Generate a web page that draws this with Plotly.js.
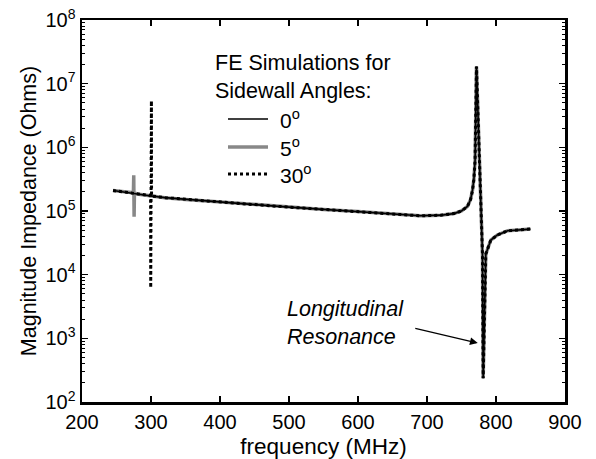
<!DOCTYPE html>
<html>
<head>
<meta charset="utf-8">
<script src="https://cdn.plot.ly/plotly-3.0.1.min.js"></script>
<style>html,body{margin:0;padding:0;background:#fff;}#chart{width:596px;height:459px;}</style>
</head>
<body>
<div id="chart"></div>
<script>
// Frequency (MHz) and magnitude impedance (Ohms)
const freq0 = [245, 260, 280, 300, 320, 350, 400, 450, 500, 550, 600, 650, 690, 720, 739, 750, 758.6, 763, 765.9, 768, 769.7, 771.7, 780.4, 781.4, 785.2, 792.5, 802, 817, 835, 850];
const z0    = [2.1e5, 1.98e5, 1.85e5, 1.72e5, 1.62e5, 1.52e5, 1.38e5, 1.26e5, 1.15e5, 1.06e5, 9.8e4, 9.0e4, 8.4e4, 8.6e4, 9.1e4, 1.0e5, 1.18e5, 1.5e5, 2.1e5, 3.2e5, 6.3e5, 1.86e7, 2.1e4, 2.36e2, 2.1e4, 3.5e4, 4.2e4, 4.9e4, 5.1e4, 5.2e4];

const freq5 = [245, 260, 274.5, 275, 275.5, 276, 280, 300, 320, 350, 400, 450, 500, 550, 600, 650, 690, 720, 739, 750, 758.6, 763, 765.9, 768, 769.7, 771.7, 780.4, 781.4, 785.2, 792.5, 802, 817, 835, 850];
const z5    = [2.1e5, 1.98e5, 1.93e5, 3.65e5, 8.1e4, 1.92e5, 1.85e5, 1.72e5, 1.62e5, 1.52e5, 1.38e5, 1.26e5, 1.15e5, 1.06e5, 9.8e4, 9.0e4, 8.4e4, 8.6e4, 9.1e4, 1.0e5, 1.18e5, 1.5e5, 2.1e5, 3.2e5, 6.3e5, 1.86e7, 2.1e4, 2.36e2, 2.1e4, 3.5e4, 4.2e4, 4.9e4, 5.1e4, 5.2e4];

const freq30 = [245, 260, 280, 290, 299.4, 299.6, 299.8, 300.4, 300.6, 300.8, 320, 350, 400, 450, 500, 550, 600, 650, 690, 720, 739, 750, 758.6, 763, 765.9, 768, 769.7, 771.7, 780.4, 781.4, 785.2, 792.5, 802, 817, 835, 850];
const z30    = [2.1e5, 1.98e5, 1.85e5, 1.78e5, 1.74e5, 6.2e3, 1.6e5, 1.7e5, 5.4e6, 1.72e5, 1.62e5, 1.52e5, 1.38e5, 1.26e5, 1.15e5, 1.06e5, 9.8e4, 9.0e4, 8.4e4, 8.6e4, 9.1e4, 1.0e5, 1.18e5, 1.5e5, 2.1e5, 3.2e5, 6.3e5, 1.86e7, 2.1e4, 2.36e2, 2.1e4, 3.5e4, 4.2e4, 4.9e4, 5.1e4, 5.2e4];

const seriesNames = ['0<sup>o</sup>', '5<sup>o</sup>', '30<sup>o</sup>'];
const legendHeader = ['FE Simulations for', 'Sidewall Angles:'];
const xTicks = [200, 300, 400, 500, 600, 700, 800, 900];
const yTicks = [1e2, 1e3, 1e4, 1e5, 1e6, 1e7, 1e8];
const yTickText = ['10<sup>2</sup>', '10<sup>3</sup>', '10<sup>4</sup>', '10<sup>5</sup>', '10<sup>6</sup>', '10<sup>7</sup>', '10<sup>8</sup>'];
const noteLines = ['Longitudinal', 'Resonance'];

const FONT = 'Liberation Sans, Arial, Helvetica, sans-serif';

const styles = [
  {color: '#000000', width: 1.6, dash: 'solid'},
  {color: '#888888', width: 3.5, dash: 'solid'},
  {color: '#000000', width: 3, dash: 'dot'}
];

const traces = [
  {x: freq5, y: z5, name: seriesNames[1], mode: 'lines', line: styles[1]},
  {x: freq30, y: z30, name: seriesNames[2], mode: 'lines', line: styles[2]},
  {x: freq0, y: z0, name: seriesNames[0], mode: 'lines', line: styles[0]}
];

// manual legend placed in paper coordinates
const legX0 = 0.3023, legX1 = 0.3851, legTextX = 0.405;
const legY = [0.7408, 0.6675, 0.5969];
const shapes = seriesNames.map((n, i) => ({
  type: 'line', xref: 'paper', yref: 'paper', x0: legX0, x1: legX1, y0: legY[i], y1: legY[i],
  line: {color: styles[i].color, width: styles[i].width, dash: styles[i].dash}
}));
const annotations = seriesNames.map((n, i) => ({
  xref: 'paper', yref: 'paper', x: legTextX, y: legY[i], xanchor: 'left', yanchor: 'middle',
  text: n, showarrow: false, font: {family: FONT, size: 21, color: '#000'}
}));
annotations.push({
  xref: 'paper', yref: 'paper', x: 0.2710, y: 0.852, xanchor: 'left', yanchor: 'middle', align: 'left',
  text: legendHeader.join('<br>'), showarrow: false, font: {family: FONT, size: 21.5, color: '#000'}
});
annotations.push({
  xref: 'paper', yref: 'paper', x: 0.42, y: 0.208, xanchor: 'left', yanchor: 'middle', align: 'left',
  text: noteLines.map(t => '<i>' + t + '</i>').join('<br>'), showarrow: false,
  font: {family: FONT, size: 21.5, color: '#000'}
});
annotations.push({xref: 'x', yref: 'y', x: 773.6, y: 2.926, text: '', showarrow: true,
  ax: -64, ay: -15, arrowhead: 2, arrowsize: 1.3, arrowwidth: 1.2, arrowcolor: '#000'});

const layout = {
  width: 596, height: 459,
  margin: {l: 82, r: 31, t: 20, b: 57},
  paper_bgcolor: '#fff', plot_bgcolor: '#fff',
  font: {family: FONT, color: '#000', size: 20},
  showlegend: false,
  xaxis: {
    range: [200, 900], tickvals: xTicks, ticktext: xTicks.map(String),
    ticks: 'inside', ticklen: 6, tickwidth: 1.5, tickcolor: '#000',
    showline: true, linecolor: '#000', linewidth: 2.5, mirror: 'ticks',
    showgrid: false, zeroline: false,
    tickfont: {family: FONT, size: 20},
    title: {text: 'frequency (MHz)', font: {family: FONT, size: 22.5}, standoff: 9}
  },
  yaxis: {
    type: 'log', range: [2, 8], tickvals: yTicks, ticktext: yTickText,
    ticks: 'inside', ticklen: 6, tickwidth: 1.5, tickcolor: '#000',
    showline: true, linecolor: '#000', linewidth: 2.5, mirror: 'ticks',
    showgrid: false, zeroline: false,
    minor: {ticks: 'inside', ticklen: 3, tickcolor: '#000', tickwidth: 1, dtick: 'D1', showgrid: false},
    tickfont: {family: FONT, size: 20},
    title: {text: 'Magnitude Impedance (Ohms)', font: {family: FONT, size: 21.5}, standoff: 3}
  },
  shapes: shapes,
  annotations: annotations
};

Plotly.newPlot('chart', traces, layout, {staticPlot: true, displayModeBar: false});
</script>
</body>
</html>
